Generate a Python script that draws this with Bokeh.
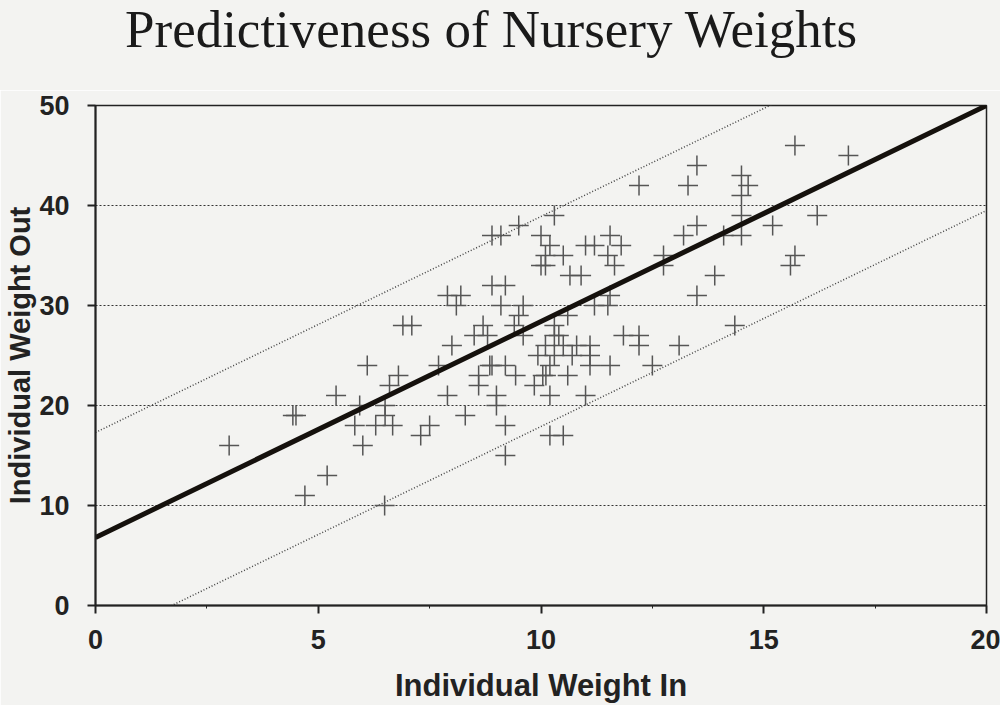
from bokeh.plotting import figure
from bokeh.embed import file_html
from bokeh.resources import INLINE
from bokeh.models import Range1d, FixedTicker, Div
from bokeh.layouts import column

# --- data ---
weight_in = [
    3.0, 4.43, 4.5, 4.7, 5.2, 5.4, 6.1, 6.8, 6.6, 5.93, 6.5, 6.5, 5.82, 6.29, 6.67,
    7.5, 7.3, 6.0, 6.49,
    10.3, 9.5, 8.9, 9.1, 10.0, 10.2, 11.0, 11.2, 11.8, 10.1, 10.5, 11.5, 12.75, 15.7,
    10.0, 10.1, 11.65, 12.75, 15.6, 10.65, 10.9, 13.9, 8.9, 9.2,
    7.9, 8.2, 11.55, 13.5, 8.1, 9.1, 9.6, 11.2, 11.5, 9.5, 10.6,
    6.9, 7.1, 8.7, 9.4, 10.3, 14.35, 8.5, 8.8, 9.6, 10.3, 10.4, 11.85, 12.2,
    8.0, 10.1, 10.5, 10.8, 11.1, 12.2, 13.1, 9.93, 10.3, 10.7, 11.1,
    7.7, 8.85, 8.9, 9.2, 10.2, 11.1, 11.55, 12.5,
    8.6, 9.43, 10.04, 10.11, 10.6, 8.6, 9.85, 7.9, 9.0, 10.2, 11.0,
    9.0, 8.3, 9.2, 10.2, 10.5, 9.2,
    11.55, 13.2, 14.1, 14.5, 13.5, 15.2, 14.5, 16.2,
    14.5, 12.2, 13.3, 14.65, 14.5, 13.5, 16.9, 15.7,
]
weight_out = [
    16, 19, 19, 11, 13, 21, 24, 23, 22, 20, 20, 19, 18, 18, 18,
    18, 17, 16, 10,
    39, 38, 37, 37, 37, 36, 36, 36, 36, 35, 35, 35, 35, 35,
    34, 34, 34, 34, 34, 33, 33, 33, 32, 32,
    31, 31, 31, 31, 30, 30, 30, 30, 30, 29, 29,
    28, 28, 28, 28, 28, 28, 27, 27, 27, 27, 27, 27, 27,
    26, 26, 26, 26, 26, 26, 26, 25, 25, 25, 25,
    24, 24, 24, 24, 24, 24, 24, 24,
    23, 23, 23, 23, 23, 22, 22, 21, 21, 21, 21,
    20, 19, 18, 17, 17, 15,
    37, 37, 37, 37, 38, 38, 39, 39,
    41, 42, 42, 42, 43, 44, 45, 46,
]

fit_x = [0, 20]
fit_intercept = 6.8
fit_slope = 2.16
band_offset = 10.5

x_ticks = [0, 5, 10, 15, 20]
x_minor_ticks = [2.5, 7.5, 12.5, 17.5]
y_ticks = [0, 10, 20, 30, 40, 50]

title_text = "Predictiveness of Nursery Weights"
x_label = "Individual Weight In"
y_label = "Individual Weight Out"

fit_y = [fit_intercept + fit_slope * x for x in fit_x]
upper_y = [v + band_offset for v in fit_y]
lower_y = [v - band_offset for v in fit_y]

BG = "#f3f3f1"

title_div = Div(
    text=('<div style="position:absolute; left:125px; top:9px; white-space:nowrap; '
          'font-family:\'Liberation Serif\'; font-size:53px; line-height:40px; '
          'color:#1a1a1a;">' + title_text + '</div>'),
    width=1000, height=90, margin=0,
    styles={"background-color": BG, "position": "relative", "overflow": "visible"},
)

p = figure(width=1000, height=615, output_backend="svg", toolbar_location=None,
           title=None, margin=0,
           x_range=Range1d(0, 20), y_range=Range1d(0, 50),
           min_border_left=95, min_border_right=14, min_border_top=15, min_border_bottom=100,
           background_fill_color=BG, border_fill_color=BG, outline_line_color="#222222",
           outline_line_width=1.5)

p.xgrid.visible = False
p.ygrid.grid_line_color = "#333333"
p.ygrid.grid_line_dash = "2 2"
p.ygrid.grid_line_width = 1

for ax in (p.xaxis[0], p.yaxis[0]):
    ax.axis_line_color = "#222222"
    ax.axis_line_width = 2
    ax.major_tick_line_color = "#222222"
    ax.major_tick_line_width = 2
    ax.major_tick_in = 0
    ax.major_tick_out = 8
    ax.major_label_text_font = "Liberation Sans"
    ax.major_label_text_font_style = "bold"
    ax.major_label_text_font_size = "27px"
    ax.major_label_text_color = "#222222"
    ax.axis_label_text_font = "Liberation Sans"
    ax.axis_label_text_font_style = "bold"
    ax.axis_label_text_color = "#222222"

p.xaxis.axis_label_text_font_size = "31px"
p.yaxis.axis_label_text_font_size = "29px"
p.xaxis.ticker = FixedTicker(ticks=x_ticks, minor_ticks=x_minor_ticks)
p.xaxis.minor_tick_line_color = "#222222"
p.xaxis.minor_tick_in = 0
p.xaxis.minor_tick_out = 3
p.yaxis.ticker = FixedTicker(ticks=y_ticks)
p.yaxis.minor_tick_line_color = None
p.xaxis.axis_label = x_label
p.yaxis.axis_label = y_label
p.xaxis.major_label_standoff = 16
p.yaxis.major_label_standoff = 18
p.xaxis.axis_label_standoff = 16
p.yaxis.axis_label_standoff = 0

p.line(fit_x, upper_y, line_color="#444444", line_width=1.5, line_dash="1 2")
p.line(fit_x, lower_y, line_color="#444444", line_width=1.5, line_dash="1 2")
p.scatter(weight_in, weight_out, marker="cross", size=20, line_color="#555555", line_width=1.5)
p.line(fit_x, fit_y, line_color="#15110d", line_width=5)

layout = column(title_div, p, spacing=0)

open("out.html", "w").write(file_html(layout, INLINE))
